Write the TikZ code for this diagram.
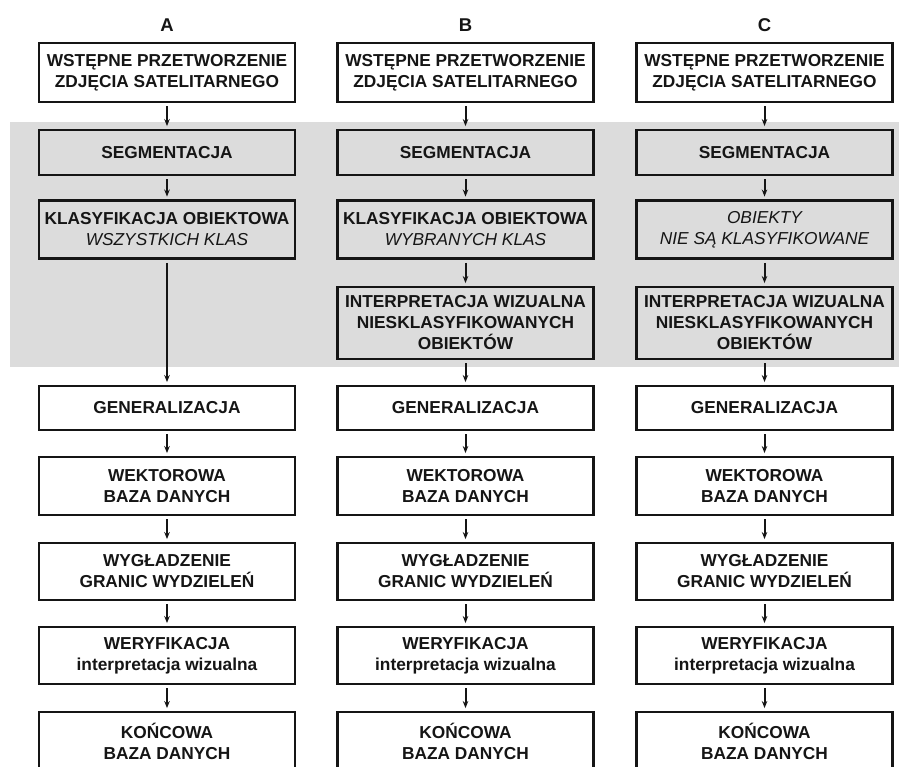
\documentclass[tikz,border=0pt]{standalone}
\usepackage{fontspec}
\setmainfont{Liberation Sans}
\usetikzlibrary{arrows.meta}
\definecolor{bandgray}{HTML}{DCDCDC}
\definecolor{ink}{HTML}{151515}
\begin{document}
\begin{tikzpicture}[x=1pt,y=1pt,
  box/.style={draw=ink, line width=2.9pt, fill=white, minimum width=256pt,
    align=center, inner sep=0pt, text=ink,
    font=\fontsize{17.3}{21}\selectfont\bfseries},
  grbox/.style={box, fill=bandgray},
  arr/.style={draw=ink, -{Stealth[length=7pt,width=5.5pt]}, line width=2pt,
    shorten <=3pt, shorten >=2.5pt},
  hdr/.style={font=\fontsize{18.5}{20}\selectfont\bfseries, text=ink}]
\clip (0,0) rectangle (899,-767);
\useasboundingbox (0,0) rectangle (899,-767);
\fill[bandgray] (10,-122) rectangle (899,-367);
\foreach \c/\x/\L in {a/167/A,b/465.5/B,c/764.5/C}{
  \node[hdr] (\c0) at (\x,-25) {\L};
  \node[box, minimum height=59pt] (\c1) at (\x,-72.5) {WSTĘPNE PRZETWORZENIE\\ZDJĘCIA SATELITARNEGO};
  \node[grbox, minimum height=45pt] (\c2) at (\x,-152.5) {SEGMENTACJA};
  \node[box, minimum height=44pt] (\c5) at (\x,-408) {GENERALIZACJA};
  \node[box, minimum height=58pt] (\c6) at (\x,-486) {WEKTOROWA\\BAZA DANYCH};
  \node[box, minimum height=57pt] (\c7) at (\x,-571.5) {WYGŁADZENIE\\GRANIC WYDZIELEŃ};
  \node[box, minimum height=57pt] (\c8) at (\x,-655.5) {WERYFIKACJA\\interpretacja wizualna};
  \node[box, minimum height=58pt] (\c9) at (\x,-741) {KOŃCOWA\\BAZA DANYCH};
}
\node[grbox, minimum height=58pt] (a3) at (167,-229.5) {KLASYFIKACJA OBIEKTOWA\\{\mdseries\itshape WSZYSTKICH KLAS}};
\node[grbox, minimum height=58pt] (b3) at (465.5,-229.5) {KLASYFIKACJA OBIEKTOWA\\{\mdseries\itshape WYBRANYCH KLAS}};
\node[grbox, minimum height=58pt, font=\fontsize{17.3}{21}\selectfont\mdseries\itshape] (c3) at (764.5,-229.5) {OBIEKTY\\NIE SĄ KLASYFIKOWANE};
\node[grbox, minimum height=72pt] (b4) at (465.5,-323) {INTERPRETACJA WIZUALNA\\NIESKLASYFIKOWANYCH\\OBIEKTÓW};
\node[grbox, minimum height=72pt] (c4) at (764.5,-323) {INTERPRETACJA WIZUALNA\\NIESKLASYFIKOWANYCH\\OBIEKTÓW};
\foreach \c in {a,b,c}{
  \draw[arr] (\c1) -- (\c2);
  \draw[arr] (\c2) -- (\c3);
  \draw[arr] (\c5) -- (\c6);
  \draw[arr] (\c6) -- (\c7);
  \draw[arr] (\c7) -- (\c8);
  \draw[arr] (\c8) -- (\c9);
}
\draw[arr] (a3) -- (a5);
\draw[arr] (b3) -- (b4);
\draw[arr] (b4) -- (b5);
\draw[arr] (c3) -- (c4);
\draw[arr] (c4) -- (c5);
\end{tikzpicture}
\end{document}
